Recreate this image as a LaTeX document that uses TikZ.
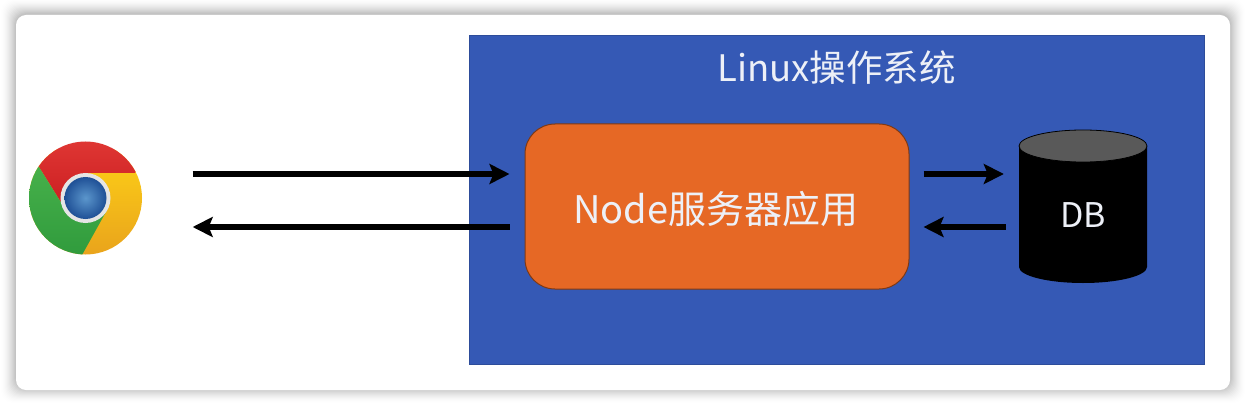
\documentclass[tikz,border=0pt]{standalone}
\usepackage{fontspec}
\setmainfont{Noto Sans CJK SC}
\usepackage{xcolor}
\usetikzlibrary{arrows.meta}
\definecolor{osblue}{HTML}{3559B5}
\definecolor{apporange}{HTML}{E66825}
\definecolor{paletext}{HTML}{EDF0F7}
\definecolor{dbtop}{HTML}{595959}
\definecolor{chromered}{HTML}{E23A36}
\definecolor{chromereddark}{HTML}{CC1F22}
\definecolor{chromegreen}{HTML}{46B04A}
\definecolor{chromegreendark}{HTML}{2F9A3C}
\definecolor{chromeyellow}{HTML}{FDD017}
\definecolor{chromeamber}{HTML}{E9A31C}
\definecolor{chromeblue}{HTML}{5B96CC}
\definecolor{chromebluedark}{HTML}{1F5096}
\tikzset{
    osbox/.style={draw=osblue!85!black,line width=0.8pt,fill=osblue,minimum width=735pt,minimum height=329pt,inner sep=0pt},
    appbox/.style={draw=apporange!55!black,line width=1pt,fill=apporange,rounded corners=30pt,minimum width=384pt,minimum height=165pt,inner sep=0pt},
    dbbox/.style={minimum width=128pt,minimum height=153pt,inner sep=0pt},
    flow/.style={-{Stealth[length=20pt,width=20pt,inset=4pt]},line width=5.5pt,black},
    lbl/.style={text=paletext,font=\fontsize{#1}{40}\selectfont}
}
\begin{document}
\begin{tikzpicture}[x=1pt,y=-1pt]
\useasboundingbox (0,0) rectangle (1246,406);
% card with soft shadow
\foreach \d in {16,15,...,1} {
    \pgfmathsetmacro{\op}{0.035*(1-\d/16)}
    \fill[black,opacity=\op,rounded corners=12pt] (16-\d,14-\d) rectangle (1230+\d,388+\d);
}
\fill[white,rounded corners=10pt] (16,15) rectangle (1230,390);

% browser icon
\node[circle,minimum size=112pt,inner sep=0pt] (chrome) at (85.5,198) {};
\begin{scope}
\clip (85.5,198) circle (56.5);
\shade[top color=chromeyellow,bottom color=chromeamber] (20,150) rectangle (150,256);
\shade[top color=chromered,bottom color=chromereddark] (135,173) -- (86,173) -- (62,204) -- (39,167) -- (20,130) -- (150,130) -- cycle;
\shade[top color=chromegreen,bottom color=chromegreendark] (39,167) -- (62,204) -- (107,210) -- (82,255) -- (10,260) -- (10,167) -- cycle;
\end{scope}
\fill[black!10] (chrome.center) circle (25);
\shade[inner color=chromeblue,outer color=chromebluedark] (chrome.center) circle (21);

% server side
\node[osbox] (os) at (837,199.5) {};
\node[lbl=36.5] (oslabel) at (836.5,68) {Linux操作系统};
\node[appbox] (app) at (717,206.5) {};
\node[lbl=38] (applabel) at (716,209) {Node服务器应用};

% database
\node[dbbox] (db) at (1083,206.5) {};
\fill[black] (1019,146) -- (1019,267) arc[start angle=180,end angle=360,x radius=64pt,y radius=16pt] -- (1147,146) -- cycle;
\draw[black,line width=0.8pt,fill=dbtop] (1083,146) ellipse[x radius=64pt,y radius=16pt];
\node[lbl=34] (dblabel) at (1083,215) {DB};

% arrows
\draw[flow,shorten <=51pt,shorten >=15pt] (chrome.east |- 0,174) -- (app.west |- 0,174);
\draw[flow,shorten <=15pt,shorten >=51pt] (app.west |- 0,227) -- (chrome.east |- 0,227);
\draw[flow,shorten <=14pt,shorten >=15pt] (app.east |- 0,174) -- (db.west |- 0,174);
\draw[flow,shorten <=13pt,shorten >=14pt] (db.west |- 0,227) -- (app.east |- 0,227);
\end{tikzpicture}
\end{document}
